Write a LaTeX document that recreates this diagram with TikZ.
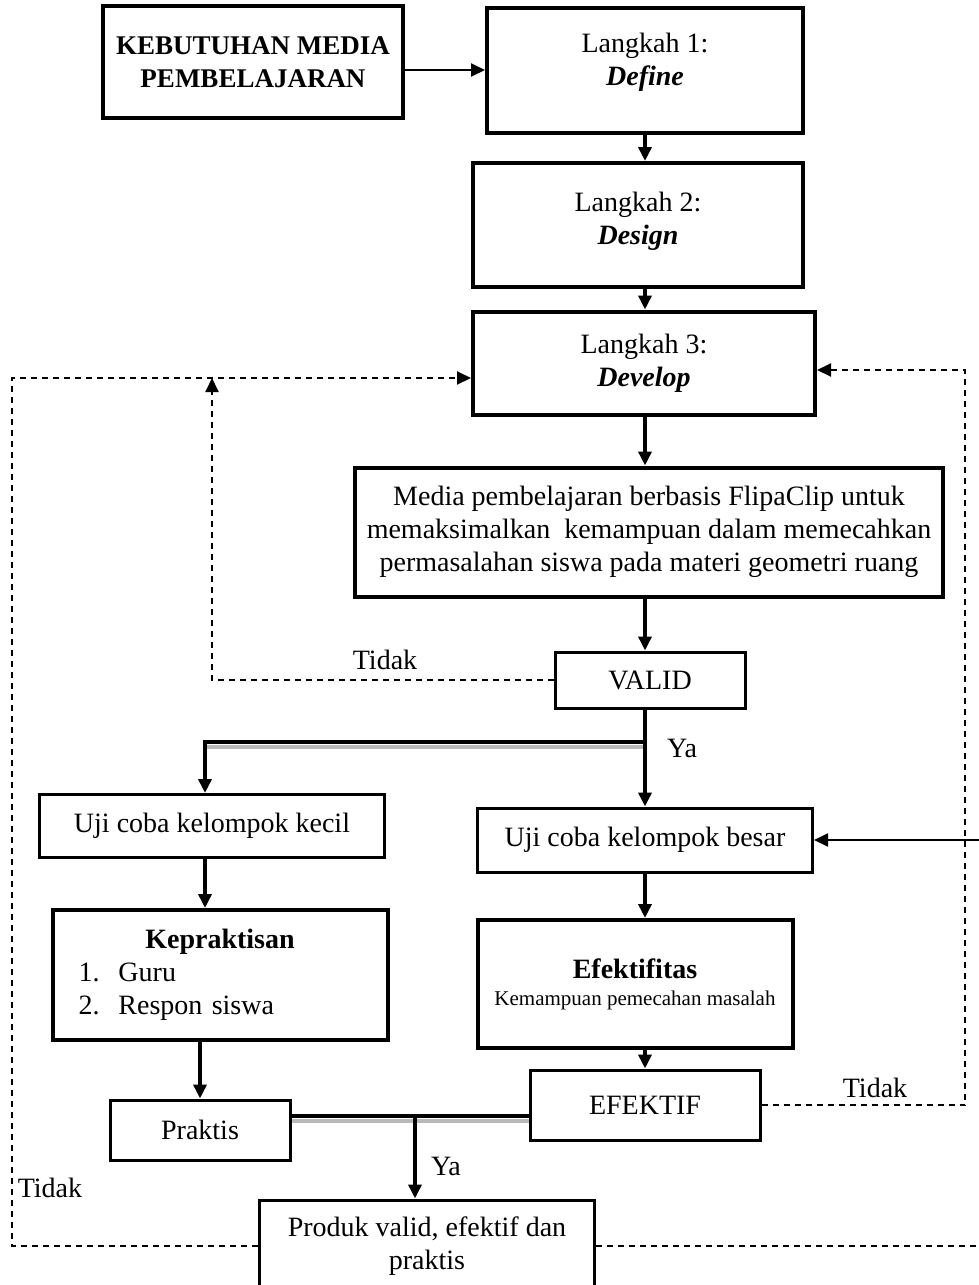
\documentclass[tikz,border=0pt]{standalone}
\usepackage{fontspec}
\setmainfont{Liberation Serif}
\usepackage{tikz}
\usetikzlibrary{shapes,arrows.meta}
\tikzstyle{box}=[rectangle, draw, line width=2pt, align=center, inner sep=2pt, font=\fontsize{14}{16.5}\selectfont]
\tikzstyle{thinbox}=[box, line width=1.5pt]
\tikzstyle{arr}=[line width=2pt, -{Triangle[length=7pt,width=6.5pt]}]
\tikzstyle{slimarr}=[line width=1pt, -{Triangle[length=7pt,width=6.5pt]}]
\tikzstyle{back}=[line width=1pt, dash pattern=on 3pt off 2.5pt, -{Triangle[length=7pt,width=6.5pt]}]
\tikzstyle{shade}=[line width=2pt, color=gray!55]
\tikzstyle{lbl}=[inner sep=0pt, font=\fontsize{14}{16.5}\selectfont]

\begin{document}
\begin{tikzpicture}[x=0.5pt, y=-0.5pt]

    % page frame, same size as the reference
    \useasboundingbox (0,0) rectangle (979,1285);

    % helper points
    \coordinate (col) at (645,0);
    \coordinate (leftcol) at (205,0);
    \coordinate (split) at (645,742);
    \coordinate (join) at (415,1116);
    \coordinate (fbA) at (212,378);
    \coordinate (fbL) at (12,378);
    \coordinate (fbR) at (965,370);
    \coordinate (edgeR) at (979,0);

    % the boxes
    \node[box, minimum width=150pt, minimum height=56pt, font=\fontsize{13.5}{16.5}\selectfont\bfseries] (need) at (253,62)
        {KEBUTUHAN MEDIA\\PEMBELAJARAN};
    \node[box, minimum width=158pt, minimum height=62.5pt] (define) at (645,70)
        {Langkah 1:\\\textbf{\textit{Define}}\\[-5.5pt]};
    \node[box, minimum width=165pt, minimum height=62pt] (design) at (638,225)
        {Langkah 2:\\\textbf{\textit{Design}}\\[-9.5pt]};
    \node[box, minimum width=171pt, minimum height=51.5pt] (develop) at (644,363)
        {Langkah 3:\\\textbf{\textit{Develop}}};
    \node[box, minimum width=294pt, minimum height=64.5pt] (media) at (649,532)
        {Media pembelajaran berbasis FlipaClip untuk\\memaksimalkan\ \ kemampuan dalam memecahkan\\permasalahan siswa pada materi geometri ruang};
    \node[thinbox, minimum width=95pt, minimum height=28pt] (valid) at (650,680) {VALID};
    \node[thinbox, minimum width=172.5pt, minimum height=31.5pt] (kecil) at (212,826) {Uji coba kelompok kecil};
    \node[thinbox, minimum width=167.5pt, minimum height=32pt] (besar) at (645,840) {Uji coba kelompok besar};
    \node[box, align=left, text width=141.5pt, inner xsep=13pt, minimum height=65pt] (kepraktisan) at (220,975)
        {\makebox[\linewidth]{\textbf{Kepraktisan}}\\
         \makebox[20pt][l]{1.}Guru\\
         \makebox[20pt][l]{2.}Respon siswa};
    \node[box, minimum width=157.5pt, minimum height=64pt] (efektifitas) at (635,984)
        {\textbf{Efektifitas}\\[-3pt]{\fontsize{10.5}{12}\selectfont Kemampuan pemecahan masalah}};
    \node[thinbox, minimum width=90pt, minimum height=30pt] (praktis) at (200,1130) {Praktis};
    \node[thinbox, minimum width=115pt, minimum height=35pt] (efektif) at (645,1105) {EFEKTIF};
    \node[thinbox, minimum width=167.5pt, minimum height=46pt] (produk) at (427,1246)
        {Produk valid, efektif dan\\praktis};

    % labels on the branches
    \node[lbl] (tidakA) at (385,660) {Tidak};
    \node[lbl] (yaA) at (682,748) {Ya};
    \node[lbl] (tidakB) at (875,1088) {Tidak};
    \node[lbl] (yaB) at (446,1166) {Ya};
    \node[lbl] (tidakC) at (50,1188) {Tidak};

    % grey shadow under the split lines
    \draw[shade, transform canvas={yshift=-2.5pt}] (split) -- (leftcol |- split);
    \draw[shade, transform canvas={yshift=-2.5pt}] (praktis.east |- join) -- (efektif.west |- join);

    % main column
    \draw[slimarr] (need.east |- define) -- (define.west);
    \foreach \a/\b in {define/design, design/develop, develop/media, media/valid}
        \draw[arr] (col |- \a.south) -- (col |- \b.north);

    % split into the two trials
    \draw[arr] (col |- valid.south) -- (col |- besar.north);
    \draw[arr] (split) -| (leftcol |- kecil.north);
    \draw[arr] (leftcol |- kecil.south) -- (leftcol |- kepraktisan.north);
    \draw[arr] (praktis.north |- kepraktisan.south) -- (praktis.north);
    \draw[arr] (col |- besar.south) -- (col |- efektifitas.north);
    \draw[arr] (col |- efektifitas.south) -- (col |- efektif.north);
    \draw[slimarr] (besar.east -| edgeR) -- (besar.east);

    % join to the product
    \draw[line width=2pt] (praktis.east |- join) -- (efektif.west |- join);
    \draw[arr] (join) -- (join |- produk.north);

    % dashed loops back to develop
    \draw[back] (valid.west) -| (fbA);
    \draw[back] (produk.west) -| (fbL) -- (develop.west |- fbL);
    \draw[back] (efektif.east) -| (fbR) -- (develop.east |- fbR);
    \draw[back, -] (produk.east) -- (produk.east -| edgeR);

\end{tikzpicture}
\end{document}
